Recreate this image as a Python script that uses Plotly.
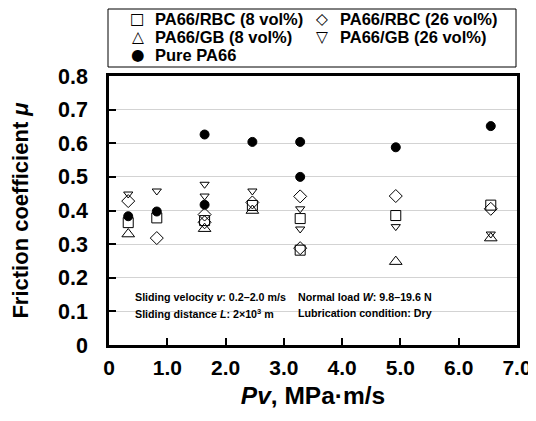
import plotly.graph_objects as go

# ---- data ----
rbc8_x = [0.33, 0.82, 1.64, 2.46, 3.28, 3.28, 4.92, 6.55]
rbc8_y = [0.364, 0.378, 0.370, 0.415, 0.376, 0.282, 0.385, 0.416]

rbc26_x = [0.33, 0.82, 1.64, 1.64, 2.46, 3.28, 3.28, 4.92, 6.55]
rbc26_y = [0.428, 0.318, 0.388, 0.365, 0.424, 0.442, 0.288, 0.443, 0.405]

gb8_x = [0.33, 1.64, 2.46, 4.92, 6.55]
gb8_y = [0.330, 0.346, 0.400, 0.248, 0.318]

gb26_x = [0.33, 0.82, 1.64, 1.64, 2.46, 3.28, 3.28, 4.92, 6.55]
gb26_y = [0.449, 0.458, 0.478, 0.443, 0.458, 0.405, 0.345, 0.352, 0.330]

pure_x = [0.33, 0.82, 1.64, 1.64, 2.46, 3.28, 3.28, 4.92, 6.55]
pure_y = [0.383, 0.397, 0.626, 0.417, 0.604, 0.604, 0.500, 0.588, 0.651]

x_ticks = [0, 1, 2, 3, 4, 5, 6, 7]
x_ticklabels = ["0", "1.0", "2.0", "3.0", "4.0", "5.0", "6.0", "7.0"]
y_ticks = [0, 0.1, 0.2, 0.3, 0.4, 0.5, 0.6, 0.7, 0.8]
y_ticklabels = ["0", "0.1", "0.2", "0.3", "0.4", "0.5", "0.6", "0.7", "0.8"]

legend_names = ["PA66/RBC (8 vol%)", "PA66/RBC (26 vol%)", "PA66/GB (8 vol%)",
                "PA66/GB (26 vol%)", "Pure PA66"]
legend_glyphs = ["□", "◇", "△", "▽", "●"]

FONT = "Liberation Sans, Arial, sans-serif"

series = [
    (legend_names[0], rbc8_x, rbc8_y, "square-open", 10),
    (legend_names[1], rbc26_x, rbc26_y, "diamond-open", 10),
    (legend_names[2], gb8_x, gb8_y, "triangle-up-open", 11),
    (legend_names[3], gb26_x, gb26_y, "triangle-down-open", 8),
    (legend_names[4], pure_x, pure_y, "circle", 9),
]

fig = go.Figure()
for name, xs, ys, sym, sz in series:
    fig.add_trace(go.Scatter(
        x=xs, y=ys, mode="markers", name=name, showlegend=False,
        marker=dict(symbol=sym, size=sz, color="black",
                    line=dict(color="black", width=1)),
    ))

# page has an 8px body margin; figure is sized so the page fits 536x421 without scrolling
OFF = 8
W, H = 536 - OFF, 421 - 2 * OFF
PL, PR, PT, PB = 109, 517, 76, 345   # plot area in page pixels
L = PL - OFF
T = PT - OFF
R = W - (PR - OFF)
B = H - (PB - OFF)
pw, ph = PR - PL, PB - PT

def px2x(px):
    return (px - PL) / pw

def py2y(py):
    return (PB - py) / ph

fig.update_layout(
    width=W, height=H,
    margin=dict(l=L, r=R, t=T, b=B, autoexpand=False),
    paper_bgcolor="white", plot_bgcolor="white",
    font=dict(family=FONT, color="black", weight="bold"),
    showlegend=False,
    xaxis=dict(
        range=[0, 7], tickvals=x_ticks, ticktext=x_ticklabels,
        showgrid=False, zeroline=False,
        showline=True, linecolor="black", linewidth=2.5, mirror=True,
        ticks="inside", ticklen=7, tickwidth=2, tickcolor="black",
        tickfont=dict(size=21, family=FONT, weight="bold"),
        ticklabelstandoff=2,
        title=dict(text="<i>Pv</i>, MPa·m/s", font=dict(size=24.5, family=FONT, weight="bold"), standoff=9),
    ),
    yaxis=dict(
        range=[0, 0.8], tickvals=y_ticks, ticktext=y_ticklabels,
        showgrid=True, gridcolor="#d3d3d3", gridwidth=1, zeroline=False,
        showline=True, linecolor="black", linewidth=2.5, mirror=True,
        ticks="inside", ticklen=7, tickwidth=2, tickcolor="black",
        tickfont=dict(size=21.5, family=FONT, weight="bold"),
        ticklabelstandoff=14,
        title=dict(text="Friction coefficient <i>μ</i>", font=dict(size=22, family=FONT, weight="bold"), standoff=24),
    ),
)

# legend box
fig.add_shape(type="rect", xref="paper", yref="paper",
              x0=px2x(108), x1=px2x(516), y0=py2y(67), y1=py2y(9),
              line=dict(color="black", width=1), fillcolor="rgba(0,0,0,0)", layer="above")

# legend entries (glyph + text), two columns
col_sym = [137.5, 321.7]
col_txt = [153, 338]
rows = [19, 37.3, 55.3]
for i, (nm, gl) in enumerate(zip(legend_names, legend_glyphs)):
    c, r = i % 2, i // 2
    fig.add_annotation(xref="paper", yref="paper", x=px2x(col_sym[c]), y=py2y(rows[r]),
                       xanchor="center", yanchor="middle", text=gl, showarrow=False,
                       font=dict(size=15.5, family="DejaVu Sans", color="black"))
    fig.add_annotation(xref="paper", yref="paper", x=px2x(col_txt[c]), y=py2y(rows[r]),
                       xanchor="left", yanchor="middle", text=nm, showarrow=False,
                       font=dict(size=16.5, family=FONT, weight="bold", color="black"))

notes = [
    (133, 297, "Sliding velocity <i>v</i>: 0.2–2.0 m/s"),
    (133, 313, "Sliding distance <i>L</i>: 2×10<sup>3</sup> m"),
    (296, 297, "Normal load <i>W</i>: 9.8–19.6 N"),
    (296, 313, "Lubrication condition: Dry"),
]
for nx, ny, txt in notes:
    fig.add_annotation(xref="paper", yref="paper", x=px2x(nx), y=py2y(ny),
                       xanchor="left", yanchor="middle", text=txt, showarrow=False,
                       font=dict(size=10.7, family=FONT, weight="bold", color="black"))

fig.write_html("out.html")
